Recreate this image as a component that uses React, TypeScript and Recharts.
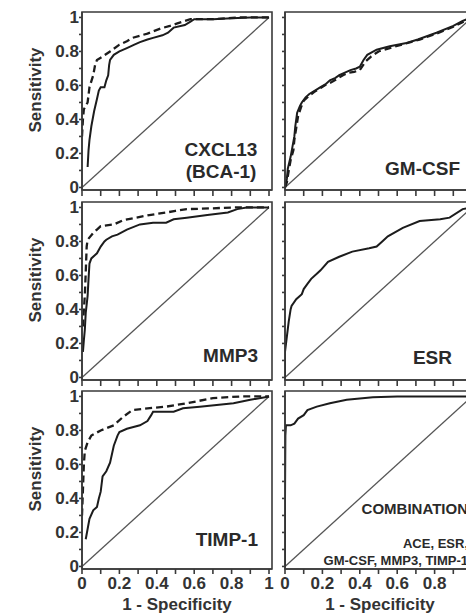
import React from 'react';
import { LineChart, Line, XAxis, YAxis, ReferenceLine, ReferenceArea, Label } from 'recharts';

type Pt = [number, number];

// ---------- data ----------
const axisTicks = [0, 0.1, 0.2, 0.3, 0.4, 0.5, 0.6, 0.7, 0.8, 0.9, 1];
const axisTickLabels = ['0', '', '0.2', '', '0.4', '', '0.6', '', '0.8', '', '1'];
const chanceLine: Pt[] = [[0, 0], [1, 1]];

const cxcl13Solid: Pt[] = [
  [0.03, 0.12], [0.035, 0.22], [0.04, 0.28], [0.05, 0.36], [0.065, 0.45], [0.08, 0.52], [0.09, 0.57],
  [0.10, 0.59], [0.12, 0.59], [0.13, 0.63], [0.14, 0.66], [0.145, 0.72], [0.15, 0.75], [0.17, 0.78],
  [0.20, 0.80], [0.24, 0.82], [0.28, 0.84], [0.31, 0.855], [0.35, 0.87], [0.38, 0.88], [0.43, 0.895],
  [0.46, 0.91], [0.49, 0.94], [0.55, 0.955], [0.58, 0.975], [0.60, 0.99], [0.70, 0.99], [0.80, 0.995],
  [0.90, 1.0], [1, 1],
];
const cxcl13Dashed: Pt[] = [
  [0, 0.30], [0.005, 0.40], [0.01, 0.46], [0.03, 0.50], [0.04, 0.59], [0.06, 0.66], [0.07, 0.72],
  [0.08, 0.75], [0.11, 0.77], [0.15, 0.80], [0.20, 0.84], [0.24, 0.86], [0.27, 0.88], [0.35, 0.905],
  [0.42, 0.935], [0.47, 0.95], [0.51, 0.965], [0.58, 0.99], [0.70, 0.99], [0.85, 1.0], [1, 1],
];

const gmcsfSolid: Pt[] = [
  [0, 0], [0.01, 0.05], [0.015, 0.11], [0.03, 0.18], [0.04, 0.24], [0.05, 0.30], [0.055, 0.36],
  [0.065, 0.44], [0.08, 0.48], [0.09, 0.50], [0.11, 0.53], [0.13, 0.55], [0.16, 0.57], [0.19, 0.59],
  [0.22, 0.61], [0.24, 0.63], [0.27, 0.645], [0.29, 0.66], [0.32, 0.675], [0.35, 0.69], [0.38, 0.70],
  [0.40, 0.71], [0.42, 0.75], [0.44, 0.78], [0.49, 0.81], [0.56, 0.83], [0.65, 0.85], [0.71, 0.87],
  [0.81, 0.91], [0.90, 0.95], [0.95, 0.98], [1, 1],
];
const gmcsfDashed: Pt[] = [
  [0, 0], [0.01, 0.03], [0.02, 0.10], [0.03, 0.16], [0.045, 0.22], [0.05, 0.28], [0.06, 0.35],
  [0.07, 0.42], [0.085, 0.47], [0.10, 0.51], [0.13, 0.54], [0.16, 0.565], [0.19, 0.585], [0.22, 0.605],
  [0.25, 0.62], [0.28, 0.64], [0.31, 0.66], [0.34, 0.675], [0.37, 0.68], [0.40, 0.69], [0.43, 0.74],
  [0.46, 0.77], [0.50, 0.80], [0.56, 0.82], [0.64, 0.845], [0.72, 0.87], [0.81, 0.905], [0.90, 0.945],
  [1, 1],
];

const mmp3Solid: Pt[] = [
  [0.005, 0.15], [0.01, 0.22], [0.015, 0.28], [0.02, 0.38], [0.03, 0.48], [0.035, 0.58], [0.04, 0.67],
  [0.05, 0.70], [0.07, 0.72], [0.08, 0.73], [0.10, 0.77], [0.12, 0.80], [0.13, 0.81], [0.16, 0.83],
  [0.19, 0.84], [0.24, 0.87], [0.31, 0.90], [0.38, 0.91], [0.45, 0.91], [0.49, 0.93], [0.56, 0.94],
  [0.67, 0.955], [0.78, 0.97], [0.83, 0.99], [0.88, 1.0], [1, 1],
];
const mmp3Dashed: Pt[] = [
  [0.005, 0.30], [0.01, 0.40], [0.015, 0.48], [0.02, 0.62], [0.025, 0.77], [0.03, 0.81], [0.06, 0.85],
  [0.08, 0.87], [0.10, 0.89], [0.17, 0.90], [0.22, 0.925], [0.29, 0.94], [0.36, 0.955], [0.45, 0.97],
  [0.50, 0.98], [0.56, 0.99], [0.70, 0.995], [0.81, 1.0], [1, 1],
];

const esrSolid: Pt[] = [
  [0, 0], [0, 0.15], [0.01, 0.24], [0.02, 0.33], [0.03, 0.40], [0.035, 0.42], [0.06, 0.46], [0.09, 0.49],
  [0.10, 0.52], [0.12, 0.55], [0.14, 0.58], [0.17, 0.61], [0.19, 0.63], [0.23, 0.68], [0.29, 0.71],
  [0.36, 0.74], [0.45, 0.76], [0.49, 0.77], [0.52, 0.80], [0.55, 0.83], [0.63, 0.88], [0.72, 0.92],
  [0.83, 0.93], [0.88, 0.94], [0.95, 0.99], [1, 1],
];

const timp1Solid: Pt[] = [
  [0.02, 0.16], [0.03, 0.22], [0.04, 0.28], [0.06, 0.33], [0.08, 0.35], [0.09, 0.40], [0.10, 0.44],
  [0.11, 0.53], [0.13, 0.56], [0.15, 0.61], [0.16, 0.66], [0.17, 0.71], [0.19, 0.77], [0.20, 0.79],
  [0.24, 0.81], [0.31, 0.83], [0.35, 0.855], [0.37, 0.89], [0.38, 0.91], [0.49, 0.91], [0.54, 0.93],
  [0.63, 0.94], [0.81, 0.96], [0.90, 0.98], [1, 1],
];
const timp1Dashed: Pt[] = [
  [0, 0.30], [0.005, 0.45], [0.01, 0.60], [0.015, 0.68], [0.03, 0.73], [0.05, 0.77], [0.10, 0.80],
  [0.17, 0.83], [0.22, 0.88], [0.27, 0.92], [0.35, 0.93], [0.45, 0.94], [0.56, 0.96], [0.70, 0.99],
  [0.85, 1.0], [1, 1],
];

const comboSolid: Pt[] = [
  [0, 0], [0, 0.40], [0.002, 0.77], [0.005, 0.83], [0.03, 0.83], [0.05, 0.84], [0.07, 0.87], [0.10, 0.89],
  [0.12, 0.92], [0.17, 0.94], [0.24, 0.96], [0.33, 0.98], [0.47, 0.995], [0.6, 1.0], [1, 1],
];

// ---------- styling ----------
const FONT = '"Liberation Sans", Arial, Helvetica, sans-serif';
const AXIS = '#3a3a3a';
const INK = '#1c1c1c';
const X_DOMAIN: [number, number] = [0, 1.016];
const Y_DOMAIN: [number, number] = [-0.015, 1.032];
const ROW_TOPS = [12, 202, 391];
const FRAME_H = 178;

const toRows = (pts: Pt[]) => pts.map(([x, y]) => ({ x, y }));
const tickText = (v: number) => {
  const i = axisTicks.findIndex((t) => Math.abs(t - v) < 1e-6);
  return i >= 0 ? axisTickLabels[i] : '';
};

const SensitivityLabel = (props: any) => {
  const vb = props.viewBox || { x: 0, y: 0, width: 0, height: 0 };
  const cx = vb.x + 35;
  const cy = vb.y + vb.height / 2 - 11;
  return (
    <text
      x={cx}
      y={cy}
      transform={`rotate(-90 ${cx} ${cy})`}
      textAnchor="middle"
      dominantBaseline="central"
      fill="#333"
      fontSize={17}
      fontWeight={700}
      fontFamily={FONT}
    >
      Sensitivity
    </text>
  );
};

type PanelProps = {
  col: 0 | 1;
  row: 0 | 1 | 2;
  solid: Pt[];
  dashed?: Pt[];
};

function Panel({ col, row, solid, dashed }: PanelProps) {
  const isLeft = col === 0;
  const isBottom = row === 2;
  const divLeft = isLeft ? 0 : 276;
  const width = isLeft ? 276 : 200;
  const xAxisH = isBottom ? 46 : 8;
  const height = 10 + FRAME_H + xAxisH;
  const top = ROW_TOPS[row] - 10;
  const tickStyle = { fill: '#333', fontSize: 17, fontWeight: 700, fontFamily: FONT };

  return (
    <div style={{ position: 'absolute', left: divLeft, top, width, height }}>
      <LineChart
        width={width}
        height={height}
        margin={{ top: 10, right: isLeft ? 4 : 1, bottom: 0, left: 0 }}
      >
        <XAxis
          dataKey="x"
          type="number"
          domain={X_DOMAIN}
          allowDataOverflow
          ticks={axisTicks}
          interval={0}
          tickFormatter={(v: number) => (isBottom ? tickText(v) : '')}
          height={xAxisH}
          tickSize={isBottom ? 5 : 6}
          tickMargin={3}
          stroke={AXIS}
          strokeWidth={1.6}
          tick={tickStyle}
        >
          {isBottom && (
            <Label
              value="1 - Specificity"
              position="insideBottom"
              offset={5}
              fill="#333"
              fontSize={17}
              fontWeight={700}
              fontFamily={FONT}
            />
          )}
        </XAxis>
        <YAxis
          type="number"
          domain={Y_DOMAIN}
          allowDataOverflow
          ticks={axisTicks}
          interval={0}
          tickFormatter={(v: number) => (isLeft ? tickText(v) : '')}
          width={isLeft ? 82 : 9}
          tickSize={3}
          tickMargin={0}
          stroke={AXIS}
          strokeWidth={1.6}
          tick={tickStyle}
        >
          {isLeft && <Label content={SensitivityLabel} />}
        </YAxis>
        <ReferenceArea
          x1={X_DOMAIN[0]}
          x2={X_DOMAIN[1]}
          y1={Y_DOMAIN[0]}
          y2={Y_DOMAIN[1]}
          fill="none"
          fillOpacity={0}
          stroke={AXIS}
          strokeWidth={1.6}
          ifOverflow="visible"
        />
        <ReferenceLine
          segment={chanceLine.map(([x, y]) => ({ x, y }))}
          stroke="#555"
          strokeWidth={1.3}
          ifOverflow="visible"
        />
        {dashed && (
          <Line
            data={toRows(dashed)}
            dataKey="y"
            type="linear"
            stroke={INK}
            strokeWidth={2.3}
            strokeDasharray="7 4"
            dot={false}
            activeDot={false}
            isAnimationActive={false}
          />
        )}
        <Line
          data={toRows(solid)}
          dataKey="y"
          type="linear"
          stroke={INK}
          strokeWidth={2}
          dot={false}
          activeDot={false}
          isAnimationActive={false}
        />
      </LineChart>
    </div>
  );
}

function Tag({
  text,
  right,
  center,
  cy,
  size,
}: {
  text: string;
  right?: number;
  center?: number;
  cy: number;
  size: number;
}) {
  const style: React.CSSProperties = {
    position: 'absolute',
    top: cy,
    fontSize: size,
    fontWeight: 700,
    fontFamily: FONT,
    color: '#2a2a2a',
    lineHeight: 1,
    whiteSpace: 'nowrap',
  };
  if (center !== undefined) {
    style.left = center;
    style.transform = 'translate(-50%, -50%)';
  } else {
    style.right = 466 - (right as number);
    style.transform = 'translateY(-50%)';
  }
  return <div style={style}>{text}</div>;
}

export default function App() {
  return (
    <div
      style={{
        position: 'fixed',
        left: 0,
        top: 0,
        width: 466,
        height: 616,
        overflow: 'hidden',
        background: '#fff',
      }}
    >
      <Panel col={0} row={0} solid={cxcl13Solid} dashed={cxcl13Dashed} />
      <Panel col={1} row={0} solid={gmcsfSolid} dashed={gmcsfDashed} />
      <Panel col={0} row={1} solid={mmp3Solid} dashed={mmp3Dashed} />
      <Panel col={1} row={1} solid={esrSolid} />
      <Panel col={0} row={2} solid={timp1Solid} dashed={timp1Dashed} />
      <Panel col={1} row={2} solid={comboSolid} />

      <Tag text="CXCL13" center={221} cy={149} size={19} />
      <Tag text="(BCA-1)" center={221} cy={171} size={19} />
      <Tag text="GM-CSF" right={460} cy={168} size={19} />
      <Tag text="MMP3" right={258} cy={355} size={19} />
      <Tag text="ESR" right={452} cy={357} size={19} />
      <Tag text="TIMP-1" right={258} cy={539} size={19} />
      <Tag text="COMBINATION" right={468} cy={508} size={15} />
      <Tag text="ACE, ESR," right={468} cy={543} size={13} />
      <Tag text="GM-CSF, MMP3, TIMP-1" right={468} cy={560} size={13} />
    </div>
  );
}
